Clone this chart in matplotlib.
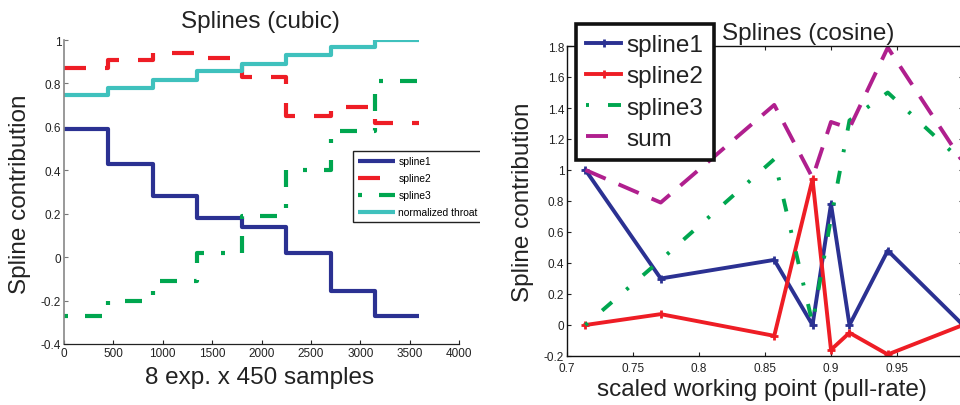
import matplotlib
matplotlib.use("Agg")
import matplotlib.pyplot as plt
from matplotlib.patches import Rectangle

plt.rcParams['font.family'] = ['Liberation Sans', 'DejaVu Sans']
plt.rcParams['lines.scale_dashes'] = False

# ---- left panel: piecewise-constant spline contributions ----
samples = [0, 450, 900, 1350, 1800, 2250, 2700, 3150, 3600]
cubic_spline1 = [0.59, 0.43, 0.28, 0.18, 0.14, 0.02, -0.155, -0.27]
cubic_spline2 = [0.87, 0.91, 0.94, 0.915, 0.83, 0.65, 0.69, 0.62]
cubic_spline3 = [-0.27, -0.20, -0.11, 0.02, 0.19, 0.40, 0.58, 0.81]
norm_throat = [0.745, 0.78, 0.815, 0.855, 0.89, 0.93, 0.97, 1.0]
left_xticks = [0, 500, 1000, 1500, 2000, 2500, 3000, 3500, 4000]
left_yticks = [-0.4, -0.2, 0, 0.2, 0.4, 0.6, 0.8, 1]

# ---- right panel: cosine splines vs working point ----
work_point = [0.714, 0.771, 0.857, 0.886, 0.900, 0.914, 0.943, 1.0]
cos_spline1 = [1.0, 0.30, 0.42, 0.0, 0.78, 0.0, 0.48, 0.0]
cos_spline2 = [0.0, 0.07, -0.07, 0.94, -0.16, -0.05, -0.19, 0.0]
cos_spline3 = [0.0, 0.42, 1.07, 0.01, 0.69, 1.32, 1.50, 1.05]
cos_sum = [1.0, 0.79, 1.42, 0.95, 1.31, 1.27, 1.79, 1.05]
right_xticks = [0.7, 0.75, 0.8, 0.85, 0.9, 0.95, 1.0]
right_yticks = [-0.2, 0, 0.2, 0.4, 0.6, 0.8, 1, 1.2, 1.4, 1.6, 1.8]

BLUE = '#2b3192'
RED = '#ee1d25'
GREEN = '#00a64f'
CYAN = '#3fc1bd'
MAGENTA = '#b01f8e'
TXT = '#222222'

PX = 0.72  # points per pixel at 100 dpi

def fmt(v):
    return ('%g' % v)

fig = plt.figure(figsize=(9.6, 4.06), dpi=100)
W, H = 960.0, 406.0

# ---------------- left axes ----------------
axL = fig.add_axes([64 / W, 1 - 345 / H, (459 - 64) / W, (345 - 41) / H])
axL.set_zorder(0)

def stepped(vals):
    return list(vals) + [vals[-1]]

axL.plot(samples, stepped(cubic_spline1), color=BLUE, lw=3.0,
         drawstyle='steps-post', label='spline1', solid_capstyle='butt')
axL.plot(samples, stepped(cubic_spline2), color=RED, lw=3.0,
         drawstyle='steps-post', label='spline2',
         dashes=(22 * PX, 19 * PX), dash_capstyle='butt')
axL.plot(samples, stepped(cubic_spline3), color=GREEN, lw=3.0,
         drawstyle='steps-post', label='spline3',
         dashes=(4 * PX, 17 * PX, 17 * PX, 17 * PX), dash_capstyle='butt')
axL.plot(samples, stepped(norm_throat), color=CYAN, lw=3.0,
         drawstyle='steps-post', label='normalized throat', solid_capstyle='butt')

axL.set_xlim(0, 4000)
axL.set_ylim(-0.4, 1.0)
axL.set_xticks(left_xticks)
axL.set_xticklabels([fmt(v) for v in left_xticks])
axL.set_yticks(left_yticks)
axL.set_yticklabels([fmt(v) for v in left_yticks])
axL.tick_params(direction='in', length=3, width=0.8, labelsize=8.5,
                colors='#222222', pad=2)
axL.tick_params(axis='y', colors='#777777', labelcolor=TXT)
for s in ('top', 'right'):
    axL.spines[s].set_visible(False)
axL.spines['left'].set_color('#888888')
axL.spines['left'].set_linewidth(1.2)
axL.spines['bottom'].set_color('#222222')
axL.spines['bottom'].set_linewidth(0.9)

legL = axL.legend(loc='upper left', bbox_to_anchor=((353 - 64) / 395, (345 - 152) / 304),
                  borderaxespad=0, fontsize=7.4, handlelength=3.6, handletextpad=0.3,
                  labelspacing=0.68, borderpad=0.5, fancybox=False, framealpha=1,
                  edgecolor='#222222')
legL.get_frame().set_linewidth(1.0)

fig.text(260 / W, 1 - 22 / H, 'Splines (cubic)', fontsize=17.5, color=TXT,
         ha='center', va='center')
fig.text(260 / W, 1 - 378 / H, '8 exp. x 450 samples', fontsize=17.5, color=TXT,
         ha='center', va='center')
fig.text(20 / W, 1 - 194 / H, 'Spline contribution', fontsize=17.5, color=TXT,
         ha='center', va='center', rotation=90)

# white band between the panels
fig.add_artist(Rectangle((480 / W, 0), 90 / W, 1, transform=fig.transFigure,
                         facecolor='white', edgecolor='none', zorder=1))

# ---------------- right axes ----------------
axR = fig.add_axes([567 / W, 1 - 357 / H, (963 - 567) / W, (357 - 47) / H])
axR.set_zorder(2)
axR.plot(work_point, cos_spline1, color=BLUE, lw=2.8, marker='+', ms=6, mew=2,
         label='spline1')
axR.plot(work_point, cos_spline2, color=RED, lw=2.8, marker='+', ms=6, mew=2,
         label='spline2')
axR.plot(work_point, cos_spline3, color=GREEN, lw=2.8, label='spline3',
         dashes=(3 * PX, 19 * PX, 13 * PX, 19 * PX), dash_capstyle='butt')
axR.plot(work_point, cos_sum, color=MAGENTA, lw=2.8, label='sum',
         dashes=(22 * PX, 14 * PX), dash_capstyle='butt')

axR.set_xlim(0.7, 1.0)
axR.set_ylim(-0.2, 1.8)
axR.set_xticks(right_xticks)
# the tick at 1 sits on the figure edge; its label falls outside the canvas
axR.set_xticklabels([fmt(v) if v < 1.0 else '' for v in right_xticks])
axR.set_yticks(right_yticks)
axR.set_yticklabels([fmt(v) for v in right_yticks])
axR.tick_params(direction='in', length=3, width=0.8, labelsize=8.5,
                colors='#222222', pad=2, top=True, right=True)
axR.tick_params(axis='x', pad=4)
for s in axR.spines.values():
    s.set_color('#111111')
    s.set_linewidth(1.0)

legR = axR.legend(loc='upper left', bbox_to_anchor=((576 - 567) / 396, (357 - 25) / 310),
                  borderaxespad=0, fontsize=17.5, handlelength=1.45, handletextpad=0.22,
                  labelspacing=0.38, borderpad=0.42, fancybox=False, framealpha=1,
                  edgecolor='#111111')
legR.get_frame().set_linewidth(2.6)
for t in legR.get_texts():
    t.set_color(TXT)

fig.text(808 / W, 1 - 34 / H, 'Splines (cosine)', fontsize=17.5, color=TXT,
         ha='center', va='center', zorder=3)
fig.text(762 / W, 1 - 390 / H, 'scaled working point (pull-rate)', fontsize=17.5,
         color=TXT, ha='center', va='center')
fig.text(523 / W, 1 - 202 / H, 'Spline contribution', fontsize=17.5, color=TXT,
         ha='center', va='center', rotation=90, zorder=3)

fig.savefig('out.png', dpi=100, facecolor='white')
